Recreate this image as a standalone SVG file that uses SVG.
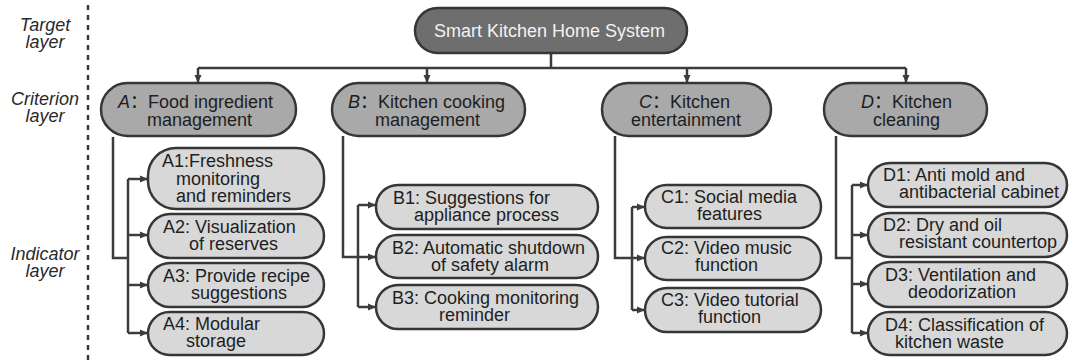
<svg xmlns="http://www.w3.org/2000/svg" width="1069" height="361" viewBox="0 0 1069 361">
<defs>
<marker id="ah" markerUnits="userSpaceOnUse" markerWidth="8" markerHeight="8" refX="8" refY="4" orient="auto">
<path d="M0,0.5 L8,4 L0,7.5 z" fill="#3c3c3c"/>
</marker>
<style>
.t{font-family:"Liberation Sans",Arial,sans-serif;font-size:18px;fill:#1e1e1e}
.w{fill:#f2f2f2}
.lay{font-family:"Liberation Sans",Arial,sans-serif;font-size:18px;font-style:italic;fill:#2a2a2a;text-anchor:middle}
.cj{font-family:"Noto Sans CJK SC","Liberation Sans",sans-serif;font-style:normal}
.it{font-style:italic}
.top{fill:#6e6e6e;stroke:#363636;stroke-width:2.5}
.crit{fill:#a9a9a9;stroke:#363636;stroke-width:2.5}
.ind{fill:#d8d8d8;stroke:#363636;stroke-width:2.5}
.c{fill:none;stroke:#3c3c3c;stroke-width:2.5}
.a{fill:none;stroke:#3c3c3c;stroke-width:2.5;marker-end:url(#ah)}
</style>
</defs>
<rect width="1069" height="361" fill="#ffffff"/>

<g id="layers">
<line x1="88" y1="5" x2="88" y2="360" stroke="#3a3a3a" stroke-width="2.5" stroke-dasharray="5,5"/>
<text class="lay" x="45" y="31">Target</text>
<text class="lay" x="45" y="48">layer</text>
<text class="lay" x="45" y="105">Criterion</text>
<text class="lay" x="45" y="122">layer</text>
<text class="lay" x="45" y="260">Indicator</text>
<text class="lay" x="45" y="277">layer</text>
</g>

<g id="connectors">
<path class="c" d="M551,53 V68"/>
<path class="c" d="M198,68 H906"/>
<path class="a" d="M198,68 V83"/>
<path class="a" d="M427,68 V83"/>
<path class="a" d="M687,68 V83"/>
<path class="a" d="M906,68 V83"/>

<path class="c" d="M113,137 V258 H128"/>
<path class="c" d="M128,179 V333"/>
<path class="a" d="M128,179 H148"/>
<path class="a" d="M128,235 H148"/>
<path class="a" d="M128,285 H148"/>
<path class="a" d="M128,333 H148"/>

<path class="c" d="M343,136 V257 H358"/>
<path class="c" d="M358,205 V307"/>
<path class="a" d="M358,205 H376"/>
<path class="a" d="M358,257 H376"/>
<path class="a" d="M358,307 H376"/>

<path class="c" d="M615,136 V258 H632"/>
<path class="c" d="M632,207 V310"/>
<path class="a" d="M632,207 H645"/>
<path class="a" d="M632,258 H645"/>
<path class="a" d="M632,310 H645"/>

<path class="c" d="M836,136 V258 H852"/>
<path class="c" d="M852,185 V333"/>
<path class="a" d="M852,185 H868"/>
<path class="a" d="M852,235 H868"/>
<path class="a" d="M852,284 H868"/>
<path class="a" d="M852,333 H868"/>
</g>

<g id="goal">
<rect class="top" x="415" y="8" width="272" height="45" rx="22.5"/>
<text class="t w" x="434" y="37">Smart Kitchen Home System</text>
</g>

<g id="A">
<rect class="crit" x="101" y="83" width="195" height="53" rx="26.5"/>
<text class="t" x="118" y="108"><tspan class="it">A</tspan><tspan class="cj">：</tspan>Food ingredient</text>
<text class="t" x="147" y="126">management</text>
</g>
<g id="B">
<rect class="crit" x="332" y="83" width="193" height="53" rx="26.5"/>
<text class="t" x="348" y="108"><tspan class="it">B</tspan><tspan class="cj">：</tspan>Kitchen cooking</text>
<text class="t" x="375" y="126">management</text>
</g>
<g id="C">
<rect class="crit" x="602" y="83" width="169" height="53" rx="26.5"/>
<text class="t" x="639" y="108"><tspan class="it">C</tspan><tspan class="cj">：</tspan>Kitchen</text>
<text class="t" x="631" y="126">entertainment</text>
</g>
<g id="D">
<rect class="crit" x="824" y="83" width="163" height="53" rx="26.5"/>
<text class="t" x="861" y="108"><tspan class="it">D</tspan><tspan class="cj">：</tspan>Kitchen</text>
<text class="t" x="873" y="126">cleaning</text>
</g>

<g id="A1">
<rect class="ind" x="148" y="148" width="176" height="61" rx="28"/>
<text class="t" x="162" y="167">A1:Freshness</text>
<text class="t" x="176" y="184.5">monitoring</text>
<text class="t" x="176" y="202">and reminders</text>
</g>
<g id="A2">
<rect class="ind" x="148" y="214" width="176" height="44" rx="22"/>
<text class="t" x="163" y="233">A2: Visualization</text>
<text class="t" x="189" y="250">of reserves</text>
</g>
<g id="A3">
<rect class="ind" x="148" y="263" width="176" height="44" rx="22"/>
<text class="t" x="163" y="282">A3: Provide recipe</text>
<text class="t" x="191" y="299">suggestions</text>
</g>
<g id="A4">
<rect class="ind" x="148" y="312" width="176" height="43" rx="21.5"/>
<text class="t" x="163" y="330">A4: Modular</text>
<text class="t" x="186" y="347">storage</text>
</g>

<g id="B1">
<rect class="ind" x="376" y="185" width="222" height="44" rx="22"/>
<text class="t" x="393" y="204">B1: Suggestions for</text>
<text class="t" x="414" y="221">appliance process</text>
</g>
<g id="B2">
<rect class="ind" x="376" y="235" width="222" height="43" rx="21.5"/>
<text class="t" x="392" y="254">B2: Automatic shutdown</text>
<text class="t" x="431" y="271">of safety alarm</text>
</g>
<g id="B3">
<rect class="ind" x="376" y="285" width="222" height="44" rx="22"/>
<text class="t" x="392" y="304">B3: Cooking monitoring</text>
<text class="t" x="439" y="321">reminder</text>
</g>

<g id="C1">
<rect class="ind" x="645" y="185" width="176" height="43" rx="21.5"/>
<text class="t" x="661" y="203">C1: Social media</text>
<text class="t" x="697" y="220">features</text>
</g>
<g id="C2">
<rect class="ind" x="645" y="237" width="176" height="43" rx="21.5"/>
<text class="t" x="661" y="254">C2: Video music</text>
<text class="t" x="695" y="271">function</text>
</g>
<g id="C3">
<rect class="ind" x="645" y="288" width="176" height="44" rx="22"/>
<text class="t" x="661" y="306">C3: Video tutorial</text>
<text class="t" x="698" y="323">function</text>
</g>

<g id="D1">
<rect class="ind" x="868" y="163" width="199" height="44" rx="22"/>
<text class="t" x="883" y="181">D1: Anti mold and</text>
<text class="t" x="899" y="198">antibacterial cabinet</text>
</g>
<g id="D2">
<rect class="ind" x="868" y="213" width="199" height="44" rx="22"/>
<text class="t" x="883" y="231">D2: Dry and oil</text>
<text class="t" x="899" y="248">resistant countertop</text>
</g>
<g id="D3">
<rect class="ind" x="868" y="262" width="199" height="45" rx="22"/>
<text class="t" x="885" y="281">D3: Ventilation and</text>
<text class="t" x="908" y="298">deodorization</text>
</g>
<g id="D4">
<rect class="ind" x="868" y="312" width="199" height="43" rx="21.5"/>
<text class="t" x="885" y="331">D4: Classification of</text>
<text class="t" x="895" y="348">kitchen waste</text>
</g>
</svg>
